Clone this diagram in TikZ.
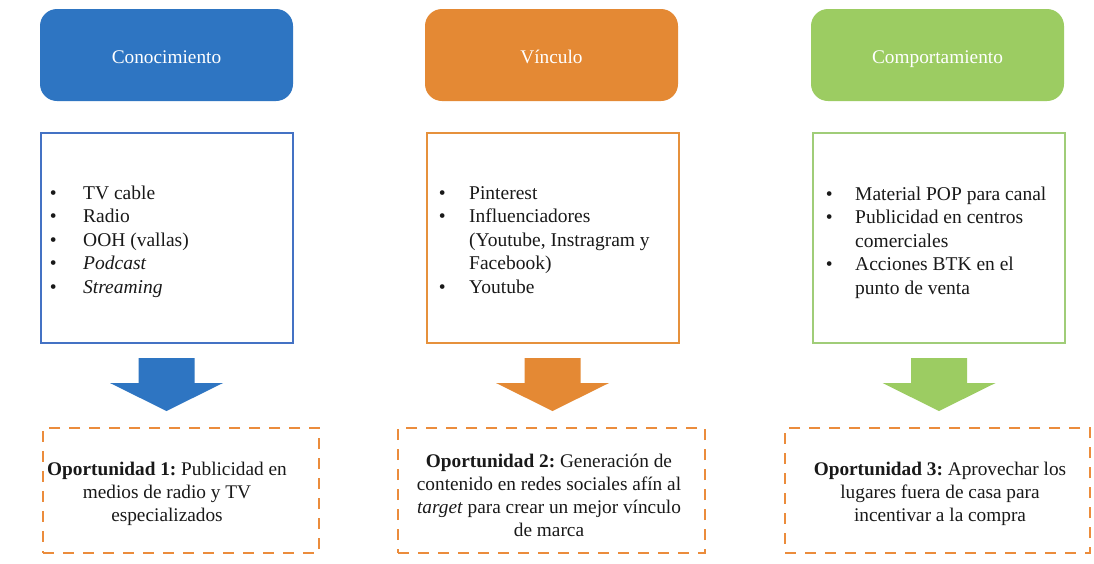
\documentclass[tikz,border=0pt]{standalone}
\usepackage{fontspec}
\setmainfont{Liberation Serif}
\usepackage{array}

\definecolor{blueF}{RGB}{46,117,194}
\definecolor{orangeF}{RGB}{228,137,52}
\definecolor{greenF}{RGB}{156,204,98}
\definecolor{blueL}{RGB}{68,114,196}
\definecolor{orangeL}{RGB}{230,145,60}
\definecolor{greenL}{RGB}{160,205,120}
\definecolor{dashC}{RGB}{235,140,60}
\definecolor{ink}{RGB}{25,25,25}

\begin{document}
\frenchspacing
\begin{tikzpicture}[x=1pt,y=-1pt,
  headbox/.style={rounded corners=17pt, inner sep=0pt, minimum width=253pt,
    minimum height=92pt, text=white, text height=16pt, text depth=0pt,
    font=\fontsize{19.3}{22}\selectfont},
  listbox/.style={draw, line width=2pt, inner sep=0pt, minimum width=252pt,
    minimum height=210pt},
  listtext/.style={anchor=base west, inner sep=0pt, text=ink,
    font=\fontsize{19.5}{23.5}\selectfont},
  oppbox/.style={draw=dashC, line width=2.6pt, dash pattern=on 11pt off 9pt,
    inner sep=0pt, minimum height=125pt},
  opptext/.style={anchor=base, inner sep=0pt, text=ink,
    font=\fontsize{19.3}{23}\selectfont},
  downarrow/.pic={\fill (-28,0) -- (28,0) -- (28,25) -- (56.5,25) -- (0,53)
    -- (-56.5,25) -- (-28,25) -- cycle;}
]
\useasboundingbox[fill=white] (0,0) rectangle (1094,563);

% heading boxes
\node[headbox, fill=blueF]   (h1) at (166.5,55) {Conocimiento};
\node[headbox, fill=orangeF] (h2) at (551.5,55) {Vínculo};
\node[headbox, fill=greenF]  (h3) at (937.5,55) {Comportamiento};

% channel lists
\node[listbox, draw=blueL]   (l1) at (166.5,238) {};
\node[listbox, draw=orangeL] (l2) at (552.5,238) {};
\node[listbox, draw=greenL]  (l3) at (939,238) {};

\node[listtext] (t1) at (49.6,199) {\begin{tabular}[t]{@{}p{33.4pt}@{}l@{}}
  \textbullet & TV cable\\
  \textbullet & Radio\\
  \textbullet & OOH (vallas)\\
  \textbullet & \textit{Podcast}\\
  \textbullet & \textit{Streaming}
\end{tabular}};
\node[listtext] (t2) at (438.6,199) {\begin{tabular}[t]{@{}p{30.4pt}@{}l@{}}
  \textbullet & Pinterest\\
  \textbullet & Influenciadores\\
              & (Youtube, Instragram y\\
              & Facebook)\\
  \textbullet & Youtube
\end{tabular}};
\node[listtext] (t3) at (825.6,200) {\begin{tabular}[t]{@{}p{29.4pt}@{}l@{}}
  \textbullet & Material POP para canal\\
  \textbullet & Publicidad en centros\\
              & comerciales\\
  \textbullet & Acciones BTK en el\\
              & punto de venta
\end{tabular}};

% block arrows
\pic[color=blueF]   at (l1.south |- 0,358) {downarrow};
\pic[color=orangeF] at (l2.south |- 0,358) {downarrow};
\pic[color=greenF]  at (l3.south |- 0,358) {downarrow};

% opportunity boxes
\node[oppbox, minimum width=276pt] (o1) at (181,490.5) {};
\node[oppbox, minimum width=307pt] (o2) at (551.5,490.5) {};
\node[oppbox, minimum width=305pt] (o3) at (937.5,490.5) {};

\node[opptext] (p1) at (167,475) {\begin{tabular}[t]{@{}c@{}}
  \textbf{Oportunidad 1:} Publicidad en\\
  medios de radio y TV\\
  especializados
\end{tabular}};
\node[opptext] (p2) at (549,467) {\begin{tabular}[t]{@{}c@{}}
  \textbf{Oportunidad 2:} Generación de\\
  contenido en redes sociales afín al\\
  \textit{target} para crear un mejor vínculo\\
  de marca
\end{tabular}};
\node[opptext] (p3) at (940,475) {\begin{tabular}[t]{@{}c@{}}
  \textbf{Oportunidad 3:} Aprovechar los\\
  lugares fuera de casa para\\
  incentivar a la compra
\end{tabular}};
\end{tikzpicture}
\end{document}
